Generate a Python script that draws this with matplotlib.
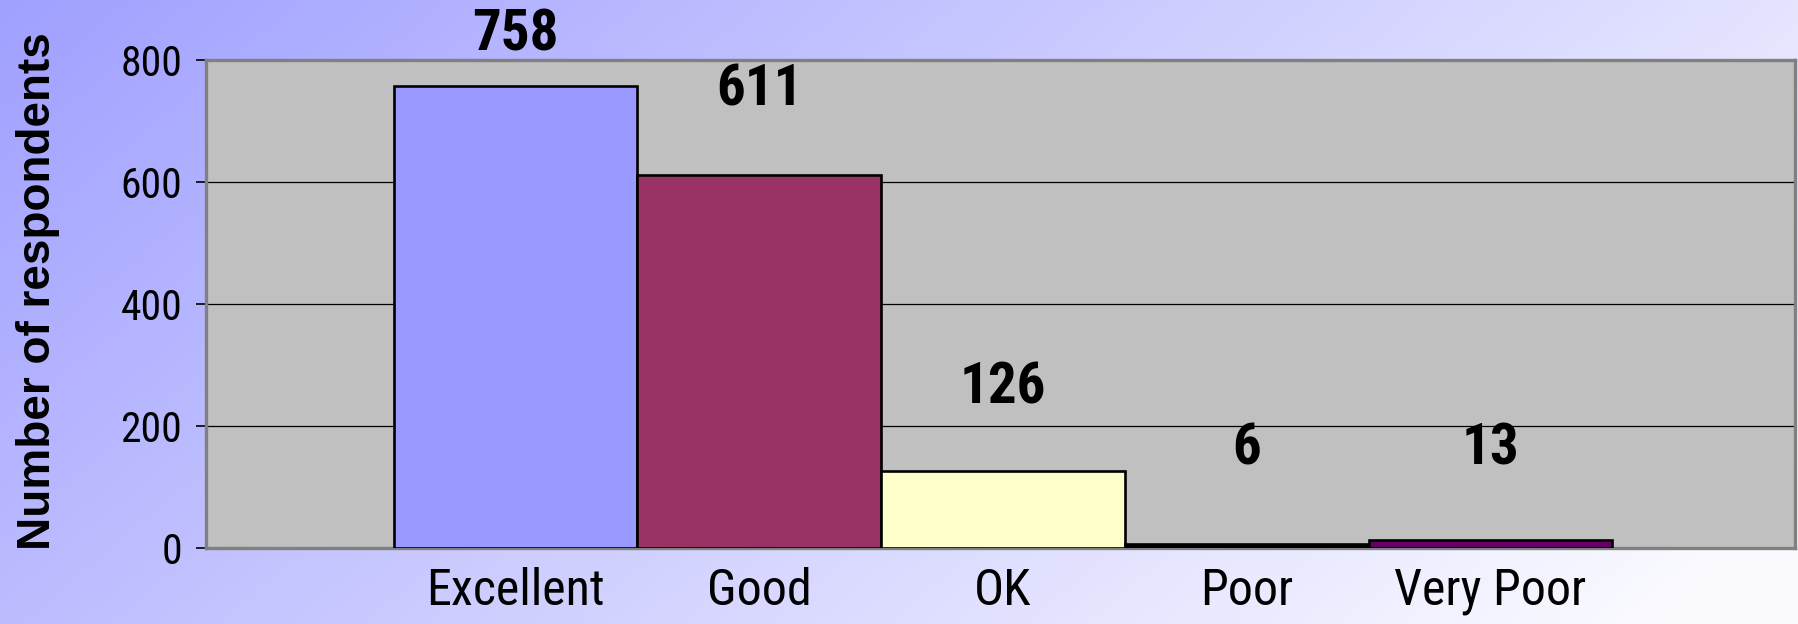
import numpy as np
import matplotlib
matplotlib.use('Agg')
import matplotlib.pyplot as plt

# Survey results
categories = ['Excellent', 'Good', 'OK', 'Poor', 'Very Poor']
counts = [758, 611, 126, 6, 13]
bar_colors = ['#9999FF', '#993366', '#FFFFCC', '#000000', '#660066']
yticks = [0, 200, 400, 600, 800]

# where the value labels sit (data units)
label_heights = [841, 751, 263, 162, 162]

narrow = ['Roboto Condensed', 'DejaVu Sans']

fig = plt.figure(figsize=(17.99, 6.24), dpi=100)

# Background gradient: lavender top-left -> near white bottom-right
bg = fig.add_axes([0, 0, 1, 1], zorder=-10)
gx, gy = np.meshgrid(np.linspace(0, 1, 400), np.linspace(0, 1, 140))
rg = np.clip(160 + 68 * gx + 28 * gy, 0, 250) / 255.0
img = np.dstack([rg, rg, np.ones_like(rg)])
bg.imshow(img, aspect='auto', extent=[0, 1, 1, 0])
bg.set_axis_off()

ax = fig.add_axes([0.1145, 0.1218, 0.8833, 0.782])
ax.set_facecolor('#C0C0C0')

x = np.arange(len(categories))
ax.bar(x, counts, width=1.0, color=bar_colors, edgecolor='black',
       linewidth=1.9, zorder=3)

for xi, h, v in zip(x, label_heights, counts):
    ax.text(xi, h, str(v), ha='center', va='center', fontsize=41,
            fontweight='bold', family=narrow, zorder=4, clip_on=False)

ax.set_xlim(-1.27, 5.25)
ax.set_ylim(0, 800)
ax.set_yticks(yticks)
ax.set_yticklabels([str(t) for t in yticks], family=narrow, fontsize=30)
ax.set_xticks(x)
ax.set_xticklabels(categories, family=narrow, fontsize=36)
ax.tick_params(axis='x', length=0, pad=14)
ax.tick_params(axis='y', direction='out', length=7, width=1.2, pad=10,
               color='black')

ax.grid(axis='y', color='black', linewidth=0.9, zorder=1)
ax.set_axisbelow(True)

for s in ax.spines.values():
    s.set_color('#808080')
    s.set_linewidth(2.4)

fig.text(0.021, 0.534, 'Number of respondents', rotation=90, ha='center',
         va='center', fontsize=33, fontweight='bold',
         family=['Liberation Sans', 'DejaVu Sans'])

plt.savefig('out.png', dpi=100)
